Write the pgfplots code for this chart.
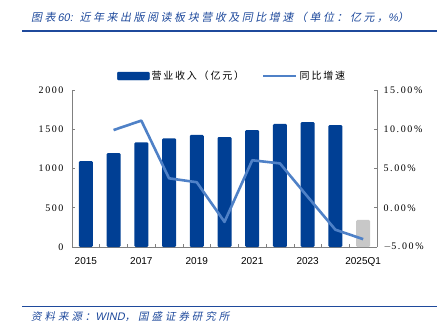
\documentclass[border=0pt]{standalone}
\usepackage{pgfplots}
\pgfplotsset{compat=1.18}
\usepackage{fontspec}
\setmainfont{Liberation Sans}
\newfontfamily\cjk[LetterSpace=18]{Noto Sans CJK SC}
\newfontfamily\cjkit[FakeSlant=0.2,LetterSpace=23]{Noto Sans CJK SC}
\newfontfamily\cjksrc[FakeSlant=0.2,LetterSpace=28]{Noto Sans CJK SC}
\newfontfamily\latit[FakeSlant=0.2]{Liberation Sans}
\newfontfamily\serifnum[LetterSpace=16]{Liberation Serif}
\definecolor{barblue}{HTML}{003F94}
\definecolor{linblue}{HTML}{4F81C7}
\definecolor{ttlblue}{HTML}{1F4A9C}
\definecolor{axgray}{HTML}{808080}
\definecolor{q1gray}{HTML}{C8C8C8}
\begin{document}
\begin{tikzpicture}
\path[use as bounding box] (0,0) rectangle (445pt,-329pt);
% title and rules
\node[anchor=west,inner sep=0pt,text=ttlblue,font=\cjkit\fontsize{11}{13}\selectfont] at (31pt,-17pt) {图表\,{\latit 60:} 近年来出版阅读板块营收及同比增速（单位：亿元，{\latit\%}）};
\draw[ttlblue,line width=1.6pt] (22pt,-31pt) -- (437pt,-31pt);
\draw[ttlblue,line width=1.6pt] (22pt,-306.5pt) -- (437pt,-306.5pt);
\node[anchor=west,inner sep=0pt,text=ttlblue,font=\cjksrc\fontsize{10.5}{13}\selectfont] at (31pt,-317pt) {资料来源：{\latit\fontsize{11}{13}\selectfont WIND}，国盛证券研究所};
% bar axis
\begin{axis}[
  at={(72pt,-247pt)}, anchor=south west,
  width=305pt, height=157pt, scale only axis,
  xmin=-0.5, xmax=10.5, ymin=0, ymax=2000,
  axis y line*=left, axis x line*=bottom,
  axis line style={axgray, line width=0.6pt},
  tick align=inside,
  major tick length=3pt,
  tick style={axgray, line width=0.6pt},
  ytick={0,500,1000,1500,2000},
  yticklabels={0,500,1000,1500,2000},
  yticklabel style={font=\serifnum\fontsize{10}{11}\selectfont, xshift=-5pt},
  xtick={0.5,1.5,...,9.5},
  xticklabels={},
  extra x ticks={0,2,4,6,8,10},
  extra x tick labels={2015,2017,2019,2021,2023,2025Q1},
  extra x tick style={major tick length=0pt, tick label style={font=\fontsize{10}{12}\selectfont, yshift=-7pt}},
  clip=false,
]
\addplot[ybar, bar width=14pt, bar shift=0pt, fill=barblue, draw=none, rounded corners=1.2pt]
  coordinates {(0,1095)(1,1197)(2,1334)(3,1385)(4,1427)(5,1401)(6,1490)(7,1567)(8,1592)(9,1554)};
\addplot[ybar, bar width=14pt, bar shift=0pt, fill=q1gray, draw=none, rounded corners=1.2pt]
  coordinates {(10,344)};
\end{axis}
% line axis
\begin{axis}[
  at={(72pt,-247pt)}, anchor=south west,
  width=305pt, height=157pt, scale only axis,
  xmin=-0.5, xmax=10.5, ymin=-5, ymax=15,
  axis y line*=right, axis x line=none,
  axis line style={axgray, line width=0.6pt},
  tick align=inside,
  major tick length=3pt,
  tick style={axgray, line width=0.6pt},
  ytick={-5,0,5,10,15},
  yticklabels={$-$5.\,00\%,0.\,00\%,5.\,00\%,10.\,00\%,15.\,00\%},
  yticklabel style={font=\serifnum\fontsize{10}{11}\selectfont, xshift=3pt},
  legend columns=2,
  legend style={draw=none, fill=none, at={(0.525,1.089)}, anchor=center,
    font=\cjk\fontsize{10}{11}\selectfont,
    /tikz/every even column/.append style={column sep=16pt}},
  clip=false,
]
\addlegendimage{legend image code/.code={\fill[barblue, rounded corners=1pt] (0pt,-4pt) rectangle (32pt,4pt);}}
\addlegendentry{营业收入（亿元）}
\addplot[linblue, line width=2.6pt, line join=round, legend image code/.code={\draw[linblue,line width=2.6pt] (0pt,0pt) -- (33pt,0pt);}]
  coordinates {(1,9.9)(2,11.1)(3,3.75)(4,3.25)(5,-1.8)(6,6.05)(7,5.65)(8,1.4)(9,-2.8)(10,-4.0)};
\addlegendentry{同比增速}
\end{axis}
\end{tikzpicture}
\end{document}
